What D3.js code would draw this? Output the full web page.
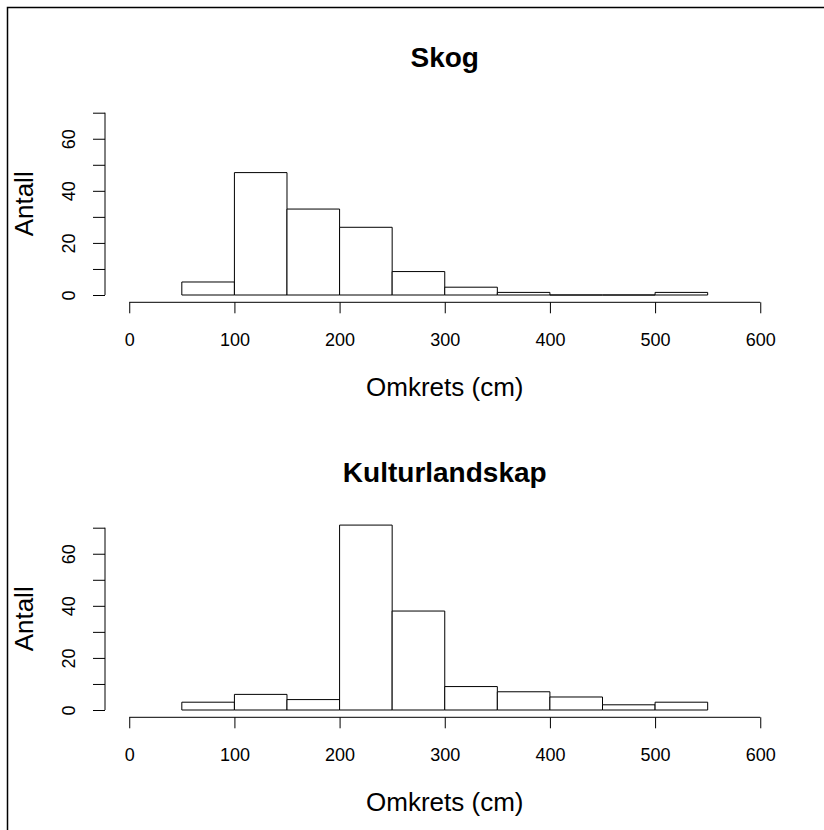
<!DOCTYPE html>
<html>
<head>
<meta charset="utf-8">
<script src="https://cdn.jsdelivr.net/npm/d3@7"></script>
<style>
  body { margin: 0; background: #fff; }
  svg text { font-family: "Liberation Sans", Arial, Helvetica, sans-serif; fill: #000; }
</style>
</head>
<body>
<svg id="chart" width="824" height="830"></svg>
<script>
// histogram bins (cm) and counts
const binEdges = [50, 100, 150, 200, 250, 300, 350, 400, 450, 500, 550];
const skogCounts = [5, 47, 33, 26, 9, 3, 1, 0, 0, 1];
const kulturCounts = [3, 6, 4, 71, 38, 9, 7, 5, 2, 3];
const xTicks = [0, 100, 200, 300, 400, 500, 600];
const yTicks = [0, 10, 20, 30, 40, 50, 60, 70];
const yTickLabels = [0, 20, 40, 60];
const panelTitles = ['Skog', 'Kulturlandskap'];

const svg = d3.select('#chart');

// outer frame (right / bottom sides fall outside the window)
svg.append('rect')
  .attr('x', 7.5).attr('y', 7.5)
  .attr('width', 840).attr('height', 840)
  .attr('fill', 'none').attr('stroke', '#000').attr('stroke-width', 1.5);

const drawPanel = (counts, title, top) => {
  // R style: 4% padding around xlim = c(0,600), ylim = c(0,70)
  const xScale = d3.scaleLinear().domain([-24, 624]).range([104, 785.5]);
  const yScale = d3.scaleLinear().domain([-2.8, 72.8]).range([top + 302.3, top + 105.4]);

  const g = svg.append('g');

  // bars
  const bins = counts.map((c, i) => ({x0: binEdges[i], x1: binEdges[i + 1], n: c}));
  g.selectAll('path.bar').data(bins)
    .enter().append('path')
    .attr('class', 'bar')
    .attr('d', d => {
      const x0 = xScale(d.x0), x1 = xScale(d.x1), y0 = yScale(0), y1 = yScale(d.n);
      return `M${x0},${y0}L${x0},${y1}L${x1},${y1}L${x1},${y0}Z`;
    })
    .attr('fill', '#fff')
    .attr('stroke', '#000')
    .attr('stroke-width', 1);

  // x axis
  const xAxis = d3.axisBottom(xScale)
    .tickValues(xTicks)
    .tickSize(11)
    .tickSizeOuter(0)
    .tickPadding(20);
  const gx = g.append('g')
    .attr('transform', `translate(0,${yScale(-2.8)})`)
    .call(xAxis);
  gx.select('.domain').attr('d', `M${xScale(0)},0H${xScale(600)}`);

  // y axis
  const yAxis = d3.axisLeft(yScale)
    .tickValues(yTicks)
    .tickSize(12)
    .tickSizeOuter(0)
    .tickFormat(d => yTickLabels.includes(d) ? d : '');
  const gy = g.append('g')
    .attr('transform', `translate(${xScale(-24) + 1},0)`)
    .call(yAxis);
  gy.select('.domain').attr('d', `M0,${yScale(0)}V${yScale(70)}`);
  gy.selectAll('.tick text')
    .attr('transform', 'rotate(-90)')
    .attr('x', 0).attr('y', -30)
    .attr('dy', 0)
    .attr('text-anchor', 'middle');

  [gx, gy].forEach(a => {
    a.selectAll('path, line').attr('stroke', '#000');
    a.selectAll('text').attr('font-size', 18).attr('font-family', null).attr('fill', '#000');
  });

  // title and axis labels
  g.append('text')
    .attr('x', xScale(300)).attr('y', top + 67)
    .attr('text-anchor', 'middle')
    .attr('font-size', 28).attr('font-weight', 'bold')
    .text(title);

  g.append('text')
    .attr('x', xScale(300)).attr('y', top + 396)
    .attr('text-anchor', 'middle')
    .attr('font-size', 26)
    .text('Omkrets (cm)');

  g.append('text')
    .attr('transform', `translate(33,${(yScale(-2.8) + yScale(72.8)) / 2}) rotate(-90)`)
    .attr('text-anchor', 'middle')
    .attr('font-size', 26)
    .text('Antall');
};

drawPanel(skogCounts, panelTitles[0], 0);
drawPanel(kulturCounts, panelTitles[1], 415);
</script>
</body>
</html>
